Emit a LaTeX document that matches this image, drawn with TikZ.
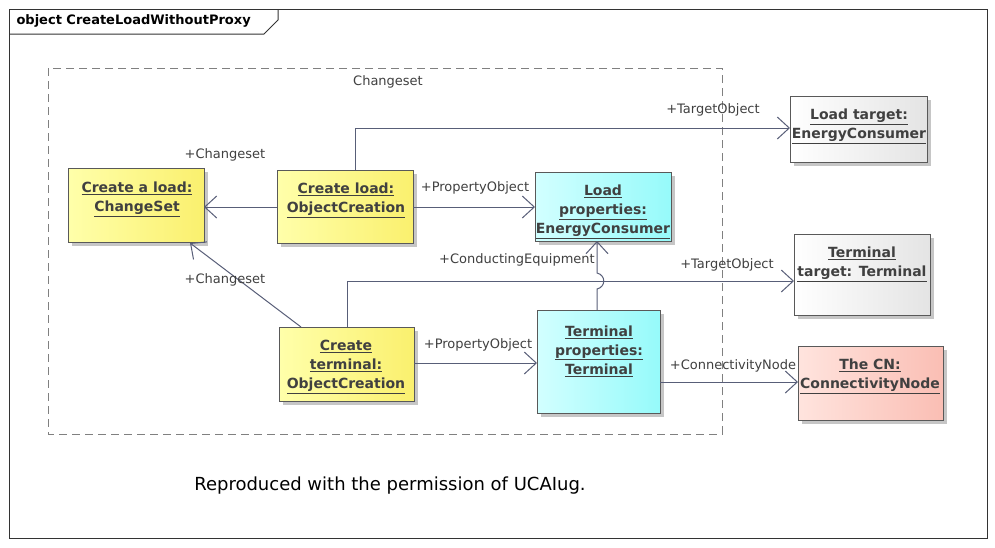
\documentclass[tikz,border=0pt]{standalone}
\usepackage{fontspec}
\setmainfont{DejaVu Sans}
\usetikzlibrary{arrows.meta, positioning, calc}
\definecolor{linec}{RGB}{88,94,120}
\definecolor{yelA}{RGB}{255,255,170}
\definecolor{yelB}{RGB}{250,240,110}
\definecolor{cyaA}{RGB}{210,255,255}
\definecolor{cyaB}{RGB}{150,250,250}
\definecolor{pinA}{RGB}{255,228,222}
\definecolor{pinB}{RGB}{250,190,180}
\definecolor{gryA}{RGB}{255,255,255}
\definecolor{gryB}{RGB}{228,228,228}
\newcommand\objbox[7]{% name, x1, y1, x2, y2, colour A, colour B
\fill[gray!45] (#2+4,#3+4) rectangle (#4+4,#5+4);
\shade[left color=#6, right color=#7, draw=gray!70!black, line width=1pt] (#2,#3) rectangle (#4,#5);
\coordinate (#1) at ($(#2,#3)!0.5!(#4,#5)$);
\coordinate (#1-nw) at (#2,#3);
\coordinate (#1-se) at (#4,#5);}
\newcommand\ul[1]{\underline{#1}}

\begin{document}
\begin{tikzpicture}[x=1pt, y=-1pt,
  conn/.style={draw=linec, line width=1pt},
  assoc/.style={conn, -{Straight Barb[length=12pt, width=22pt, line width=1pt]}},
  rolelbl/.style={text=black!75, font=\fontsize{13}{15}\selectfont, inner sep=1pt},
  objtext/.style={align=center, text=black!75, font=\bfseries\fontsize{14}{19}\selectfont}]
\useasboundingbox (0,0) rectangle (995,547);
\fill[white] (0,0) rectangle (995,547);
% frame
\draw[black!80, line width=1pt] (9,9) rectangle (987,538);
\draw[black!80, line width=1pt] (9,34) -- (264,34) -- (278,20) -- (278,9);
\node[anchor=west, font=\bfseries\fontsize{13}{15}\selectfont] (title) at (13,21) {object CreateLoadWithoutProxy};
% changeset package
\draw[gray, dash pattern=on 8pt off 5pt, line width=1pt] (48,68) rectangle (722,434);
\node[rolelbl] (pkg) at (388,82) {Changeset};

% objects
\objbox{cal}{68}{168}{204}{242}{yelA}{yelB}
\objbox{clo}{277}{170}{413}{243}{yelA}{yelB}
\objbox{lpr}{535}{172}{671}{241}{cyaA}{cyaB}
\objbox{cte}{279}{327}{414}{401}{yelA}{yelB}
\objbox{tpr}{537}{310}{660}{413}{cyaA}{cyaB}
\objbox{ltg}{790}{96}{927}{162}{gryA}{gryB}
\objbox{ttg}{794}{234}{930}{315}{gryA}{gryB}
\objbox{tcn}{798}{346}{943}{420}{pinA}{pinB}

\node[objtext] (calt) at (137,199) {\ul{Create a load:}\\\ul{ChangeSet}};
\node[objtext] (clot) at (346,200) {\ul{Create load:}\\\ul{ObjectCreation}};
\node[objtext] (lprt) at (603,212) {\ul{Load}\\\ul{properties:}\\\ul{EnergyConsumer}};
\node[objtext] (ctet) at (346,367) {\ul{Create}\\\ul{terminal:}\\\ul{ObjectCreation}};
\node[objtext] (tprt) at (599,351) {\ul{Terminal}\\\ul{properties:}\\\ul{Terminal}};
\node[objtext] (ltgt) at (859,126) {\ul{Load target:}\\\ul{EnergyConsumer}};
\node[objtext] (ttgt) at (862,264) {\ul{Terminal}\\\ul{target: Terminal}};
\node[objtext] (tcnt) at (870,376) {\ul{The CN:}\\\ul{ConnectivityNode}};

% associations
\draw[assoc] (clo-nw |- 0,207) -- (cal-se |- 0,207);
\node[rolelbl] (r1) at (225,155) {+Changeset};
\draw[assoc] (301,327) -- (190,243);
\node[rolelbl] (r2) at (225,280) {+Changeset};
\draw[assoc] (clo-se |- 0,207) -- (lpr-nw |- 0,207);
\node[rolelbl] (r3) at (475,188) {+PropertyObject};
\draw[assoc] (355,170) -- (355,128) -- (ltg-nw |- 0,128);
\node[rolelbl] (r4) at (713,110) {+TargetObject};
\draw[assoc] (cte-se |- 0,363) -- (tpr-nw |- 0,363);
\node[rolelbl] (r5) at (478,345) {+PropertyObject};
\draw[assoc] (597,310) -- (597,289) .. controls (606,287) and (606,275) .. (597,273) -- (597,241);
\draw[assoc] (347,327) -- (347,281) -- (ttg-nw |- 0,281);
\node[rolelbl] (r6) at (517,260) {+ConductingEquipment};
\node[rolelbl] (r7) at (727,265) {+TargetObject};
\draw[assoc] (tpr-se |- 0,382) -- (tcn-nw |- 0,382);
\node[rolelbl] (r8) at (733,366) {+ConnectivityNode};

\node[font=\fontsize{18}{22}\selectfont] (note) at (390,486) {Reproduced with the permission of UCAIug.};
\end{tikzpicture}
\end{document}
